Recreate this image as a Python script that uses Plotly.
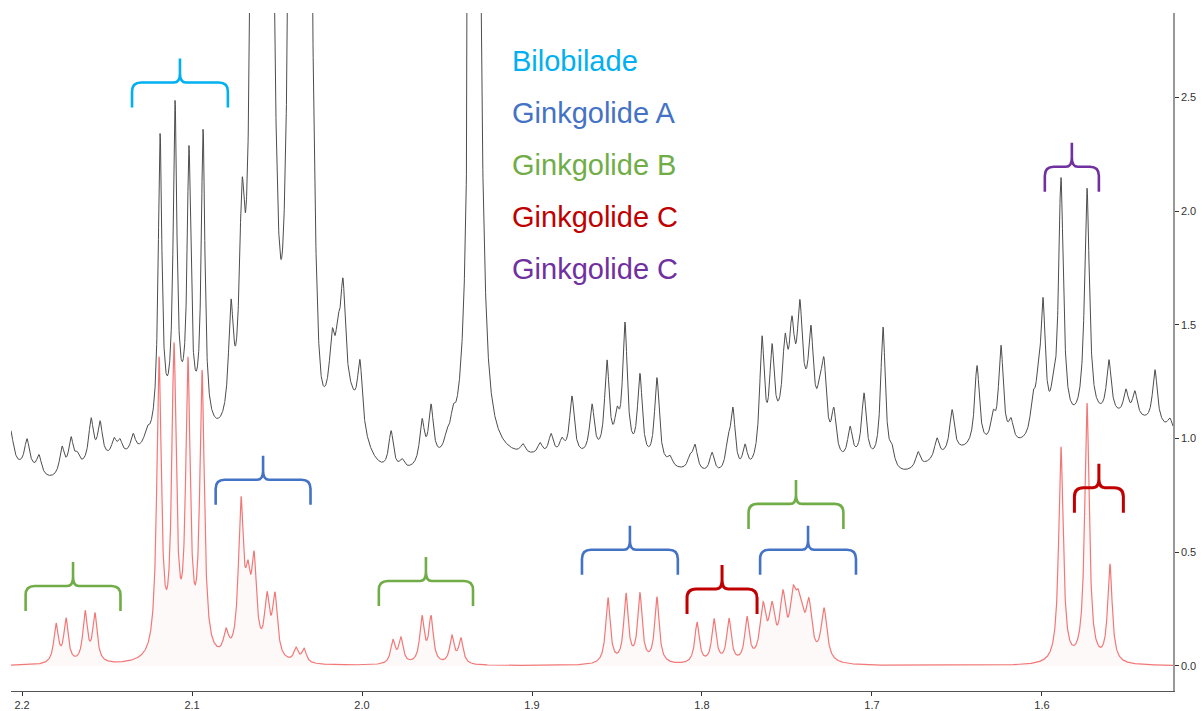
import numpy as np
import plotly.graph_objects as go

# ---------------- data ----------------
x_ticks = [2.2, 2.1, 2.0, 1.9, 1.8, 1.7, 1.6]
y_ticks = [0.0, 0.5, 1.0, 1.5, 2.0, 2.5]

# Reference (red) spectrum: peak list (ppm, height, half-width ppm)
red_pos = [2.1800, 2.1741, 2.1629, 2.1571, 2.1194, 2.1106, 2.1024, 2.0941, 2.0800, 2.0712,
           2.0671, 2.0635, 2.0559, 2.0512, 2.0388, 2.0341, 1.9818, 1.9771, 1.9647, 1.9594,
           1.9471, 1.9418, 1.8553, 1.8447, 1.8365, 1.8265, 1.8029, 1.7929, 1.7841, 1.7735,
           1.7641, 1.7588, 1.7524, 1.7465, 1.7435, 1.7412, 1.7371, 1.7282, 1.5888, 1.5735,
           1.5600]
red_amp = [0.17, 0.19, 0.22, 0.21, 1.30, 1.32, 1.25, 1.23, 0.10, 0.66,
           0.26, 0.39, 0.25, 0.27, 0.06, 0.06, 0.10, 0.11, 0.20, 0.20,
           0.12, 0.11, 0.29, 0.30, 0.30, 0.29, 0.18, 0.19, 0.19, 0.19,
           0.23, 0.21, 0.26, 0.23, 0.17, 0.10, 0.23, 0.23, 0.95, 1.14,
           0.43]
red_hw = [0.0016] * 8 + [0.0018] * 6 + [0.0016] * 16 + [0.0021] * 8 + [0.0016] * 3

# Measured (black) spectrum: sharp lines (ppm, height, half-width ppm)
blk_pos = [2.2071, 2.1971, 2.1900, 2.1765, 2.1712, 2.1676, 2.1594, 2.1541, 2.1459, 2.1424, 2.1347, 2.1265,
           2.1188, 2.1100, 2.1018, 2.0935, 2.0771, 2.0706,
           2.0176, 2.0141, 2.0112, 2.0012, 1.9829, 1.9765, 1.9647, 1.9594, 1.9500, 1.9465, 1.9338, 1.9282,
           1.9053, 1.8953, 1.8888, 1.8824, 1.8765, 1.8647, 1.8559, 1.8500, 1.8453, 1.8365, 1.8265, 1.8188,
           1.8071, 1.8041, 1.7941, 1.7847, 1.7818, 1.7747, 1.7647, 1.7588, 1.7512, 1.7471, 1.7424, 1.7359,
           1.7306, 1.7282, 1.7224, 1.7129, 1.7047, 1.6935, 1.6882, 1.6729, 1.6618, 1.6529, 1.6382, 1.6288,
           1.6241, 1.6182, 1.6053, 1.6024, 1.5994, 1.5935, 1.5888, 1.5735, 1.5606, 1.5506, 1.5453, 1.5335, 1.5247]
blk_amp = [0.22, 0.12, 0.08, 0.12, 0.14, 0.05, 0.19, 0.16, 0.07, 0.06, 0.08, 0.05,
           1.29, 1.35, 1.14, 1.28, 0.48, 0.90,
           0.23, 0.18, 0.43, 0.28, 0.17, 0.04, 0.19, 0.24, 0.05, 0.09, 110.0, 0.08,
           0.04, 0.05, 0.09, 0.06, 0.26, 0.22, 0.41, 0.14, 0.58, 0.37, 0.38, 0.04,
           0.05, 0.11, 0.09, 0.11, 0.27, 0.11, 0.53, 0.40, 0.30, 0.31, 0.40, 0.36,
           0.14, 0.31, 0.19, 0.14, 0.29, 0.62, 0.07, 0.07, 0.09, 0.19, 0.36, 0.11,
           0.43, 0.09, 0.14, 0.14, 0.55, 0.09, 1.09, 1.02, 0.24, 0.11, 0.11, 0.24, 0.05]
blk_hw = ([0.0026] + [0.0017] * 11 + [0.0013] * 4 + [0.0017] + [0.0020] +
          [0.0017] * 10 + [0.00052] + [0.0017] +
          [0.0017] * 49)

# Measured (black) spectrum: broad components (ppm, height, sd ppm) and offset
brd_pos = [2.1982, 2.1424, 2.1065, 2.0482, 2.0588, 2.0362, 2.0476, 2.0100, 1.8835, 1.7435, 1.7071, 1.6482, 1.5541]
brd_amp = [0.07, 0.12, 0.22, 0.43, 7.1, 7.9, 0.22, 0.24, 0.12, 0.33, 0.09, 0.11, 0.30]
brd_sd = [0.0071, 0.0235, 0.0129, 0.0265, 0.0041, 0.0041, 0.0060, 0.0088, 0.0647, 0.0118, 0.0118, 0.0235, 0.0471]
blk_offset = 0.78

# Labels
labels = ["Bilobilade", "Ginkgolide A", "Ginkgolide B", "Ginkgolide C", "Ginkgolide C"]
label_colors = ["#00B0F0", "#4472C4", "#70AD47", "#C00000", "#7030A0"]

# Braces: centre (ppm), level (y), half-width (ppm), colour
brace_center = [2.1071, 2.0582, 2.1700, 1.9624, 1.8424, 1.7882, 1.7447, 1.7376, 1.5665, 1.5824]
brace_level = [2.566, 0.819, 0.352, 0.374, 0.511, 0.339, 0.713, 0.511, 0.784, 2.196]
brace_half = [0.0282, 0.0279, 0.0279, 0.0277, 0.0282, 0.0206, 0.0279, 0.0282, 0.0144, 0.0159]
brace_color = ["#00B0F0", "#4472C4", "#70AD47", "#70AD47", "#4472C4", "#C00000",
               "#70AD47", "#4472C4", "#C00000", "#7030A0"]

# ---------------- layout constants ----------------
W, H = 1203, 711
ML, MR, MT, MB = 11, 30, 13, 20
X_RANGE = [2.2065, 1.5229]
Y_RANGE = [-0.110, 2.872]

x = np.linspace(X_RANGE[0], X_RANGE[1], 8000)


def lorentz(xx, p, a, g):
    return a / (1.0 + ((xx - p) / g) ** 2)


def gauss(xx, p, a, s):
    return a * np.exp(-((xx - p) ** 2) / (2 * s * s))


red = np.zeros_like(x)
for p, a, g in zip(red_pos, red_amp, red_hw):
    red += lorentz(x, p, a, g)

blk = np.full_like(x, blk_offset)
for p, a, g in zip(blk_pos, blk_amp, blk_hw):
    blk += lorentz(x, p, a, g)
for p, a, s in zip(brd_pos, brd_amp, brd_sd):
    blk += gauss(x, p, a, s)

fig = go.Figure()
fig.add_trace(go.Scatter(x=x, y=blk, mode="lines",
                         line=dict(color="#4d4d4d", width=1), hoverinfo="skip"))
fig.add_trace(go.Scatter(x=x, y=red, mode="lines", fill="tozeroy",
                         fillcolor="rgba(240,110,110,0.04)",
                         line=dict(color="#F27878", width=1.2), hoverinfo="skip"))

# pixel -> data conversion for brace geometry
kx = (X_RANGE[0] - X_RANGE[1]) / (W - ML - MR)
ky = (Y_RANGE[1] - Y_RANGE[0]) / (H - MT - MB)

shapes = []
LEG, TIP, R, S = 25, 24, 9, 6
for c, lv, hw, col in zip(brace_center, brace_level, brace_half, brace_color):
    wpx = hw / kx

    def P(dx, dy):
        return f"{c - dx * kx:.5f},{lv - dy * ky:.5f}"
    path = (f"M{P(-wpx, LEG)} L{P(-wpx, R)} Q{P(-wpx, 0)} {P(-wpx + R, 0)} "
            f"L{P(-S, 0)} Q{P(0, 0)} {P(0, -9)} L{P(0, -TIP)} "
            f"M{P(0, -9)} Q{P(0, 0)} {P(S, 0)} L{P(wpx - R, 0)} "
            f"Q{P(wpx, 0)} {P(wpx, R)} L{P(wpx, LEG)}")
    shapes.append(dict(type="path", path=path, xref="x", yref="y",
                       line=dict(color=col, width=3 if col == "#C00000" else 2.6),
                       layer="above"))

annotations = []
y0_px, dy_px, x_px = 61, 52, 510
for i, (t, col) in enumerate(zip(labels, label_colors)):
    ypx = y0_px + i * dy_px
    annotations.append(dict(
        x=X_RANGE[0] - (x_px - ML) * kx, y=Y_RANGE[1] - (ypx - MT) * ky,
        xref="x", yref="y", text=t, showarrow=False,
        xanchor="left", yanchor="middle",
        font=dict(family="Liberation Sans, Arial", size=29, color=col)))

fig.update_layout(
    template="none",
    width=W, height=H, margin=dict(l=ML, r=MR, t=MT, b=MB, autoexpand=False),
    plot_bgcolor="white", paper_bgcolor="white", showlegend=False,
    shapes=shapes, annotations=annotations,
    xaxis=dict(range=X_RANGE, tickvals=x_ticks, ticktext=[f"{v:.1f}" for v in x_ticks],
               ticks="outside", ticklen=4, tickwidth=1, tickcolor="#333",
               showline=True, linecolor="#555", linewidth=1, automargin=False,
               showgrid=False, zeroline=False,
               tickfont=dict(family="Liberation Sans, Arial", size=11, color="#333")),
    yaxis=dict(range=Y_RANGE, side="right", tickvals=y_ticks,
               ticktext=[f"{v:.1f}" for v in y_ticks], automargin=False,
               ticks="outside", ticklen=4, tickwidth=1, tickcolor="#333",
               showline=True, linecolor="#999", linewidth=1.5,
               showgrid=False, zeroline=False,
               tickfont=dict(family="Liberation Sans, Arial", size=11, color="#333")),
)

fig.write_html("out.html")
